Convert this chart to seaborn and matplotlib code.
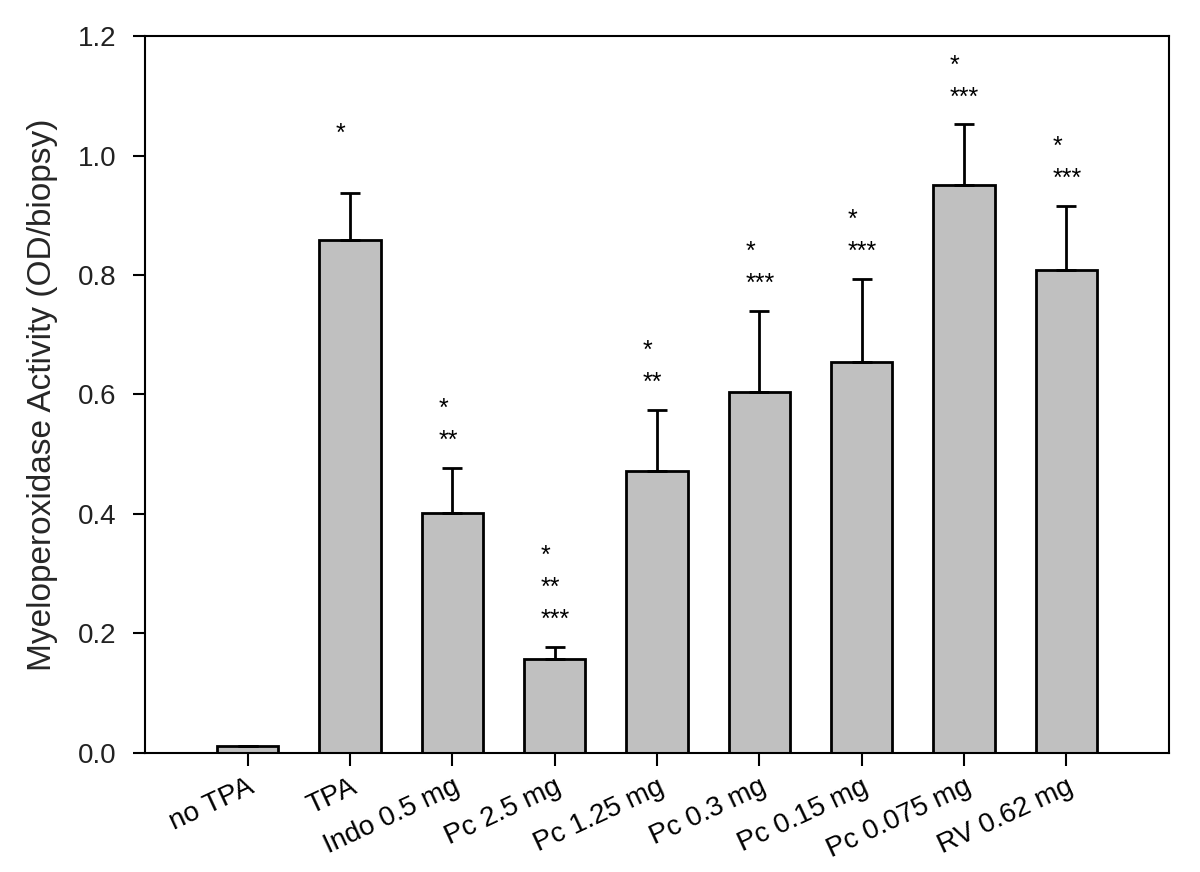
import numpy as np
import pandas as pd
import matplotlib
matplotlib.use("Agg")
import matplotlib.pyplot as plt
import seaborn as sns

# values
groups = ["no TPA", "TPA", "Indo 0.5 mg", "Pc 2.5 mg", "Pc 1.25 mg",
          "Pc 0.3 mg", "Pc 0.15 mg", "Pc 0.075 mg", "RV 0.62 mg"]
mpo = [0.012, 0.859, 0.401, 0.157, 0.472, 0.604, 0.655, 0.951, 0.809]
sem = [0.0, 0.078, 0.076, 0.020, 0.102, 0.136, 0.139, 0.101, 0.106]
stars = ["", "*\n", "*\n**", "*\n**\n***", "*\n**",
         "*\n***", "*\n***", "*\n***", "*\n***"]
yticks = [0.0, 0.2, 0.4, 0.6, 0.8, 1.0, 1.2]

sns.set_theme(style="ticks")
plt.rcParams["font.family"] = ["Liberation Sans", "DejaVu Sans"]

df = pd.DataFrame({"group": groups, "mpo": mpo})

fig = plt.figure(figsize=(12, 8.72), dpi=100)
ax = fig.add_axes([0.121, 0.1365, 0.853, 0.8222])

sns.barplot(data=df, x="group", y="mpo", order=groups, color="#c0c0c0",
            saturation=1, width=0.6, edgecolor="black", linewidth=2,
            errorbar=None, ax=ax)

xpos = np.arange(len(groups))
ax.errorbar(xpos, mpo, yerr=[np.zeros(len(sem)), sem], fmt="none",
            ecolor="black", elinewidth=2, capsize=7, capthick=2)

# significance marks, one text per line, stacked above the error bar
for x, y, e, s in zip(xpos, mpo, sem, stars):
    if not s:
        continue
    lines = s.split("\n")
    for i, line in enumerate(reversed(lines)):
        if not line:
            continue
        ax.annotate(line, xy=(x, y + e), xytext=(-14, 27 + i * 32),
                    textcoords="offset pixels", ha="left", va="center",
                    fontsize=18, color="black")

ax.set_xlim(-1, 9)
ax.set_ylim(0, 1.2)
ax.set_yticks(yticks)
ax.set_yticklabels([f"{t:.1f}" for t in yticks])
ax.set_xlabel("")
ax.set_ylabel("Myeloperoxidase Activity (OD/biopsy)", fontsize=24, labelpad=14)

for sp in ax.spines.values():
    sp.set_linewidth(1.5)
    sp.set_color("black")
ax.tick_params(axis="both", direction="out", length=9, width=1.5,
               colors="black")
ax.tick_params(axis="y", pad=12, labelsize=20, labelcolor="#222222")
ax.tick_params(axis="x", pad=6)
plt.setp(ax.get_xticklabels(), rotation=25, ha="right",
         rotation_mode="anchor", fontsize=20)

fig.savefig("out.png", dpi=100, facecolor="white")
